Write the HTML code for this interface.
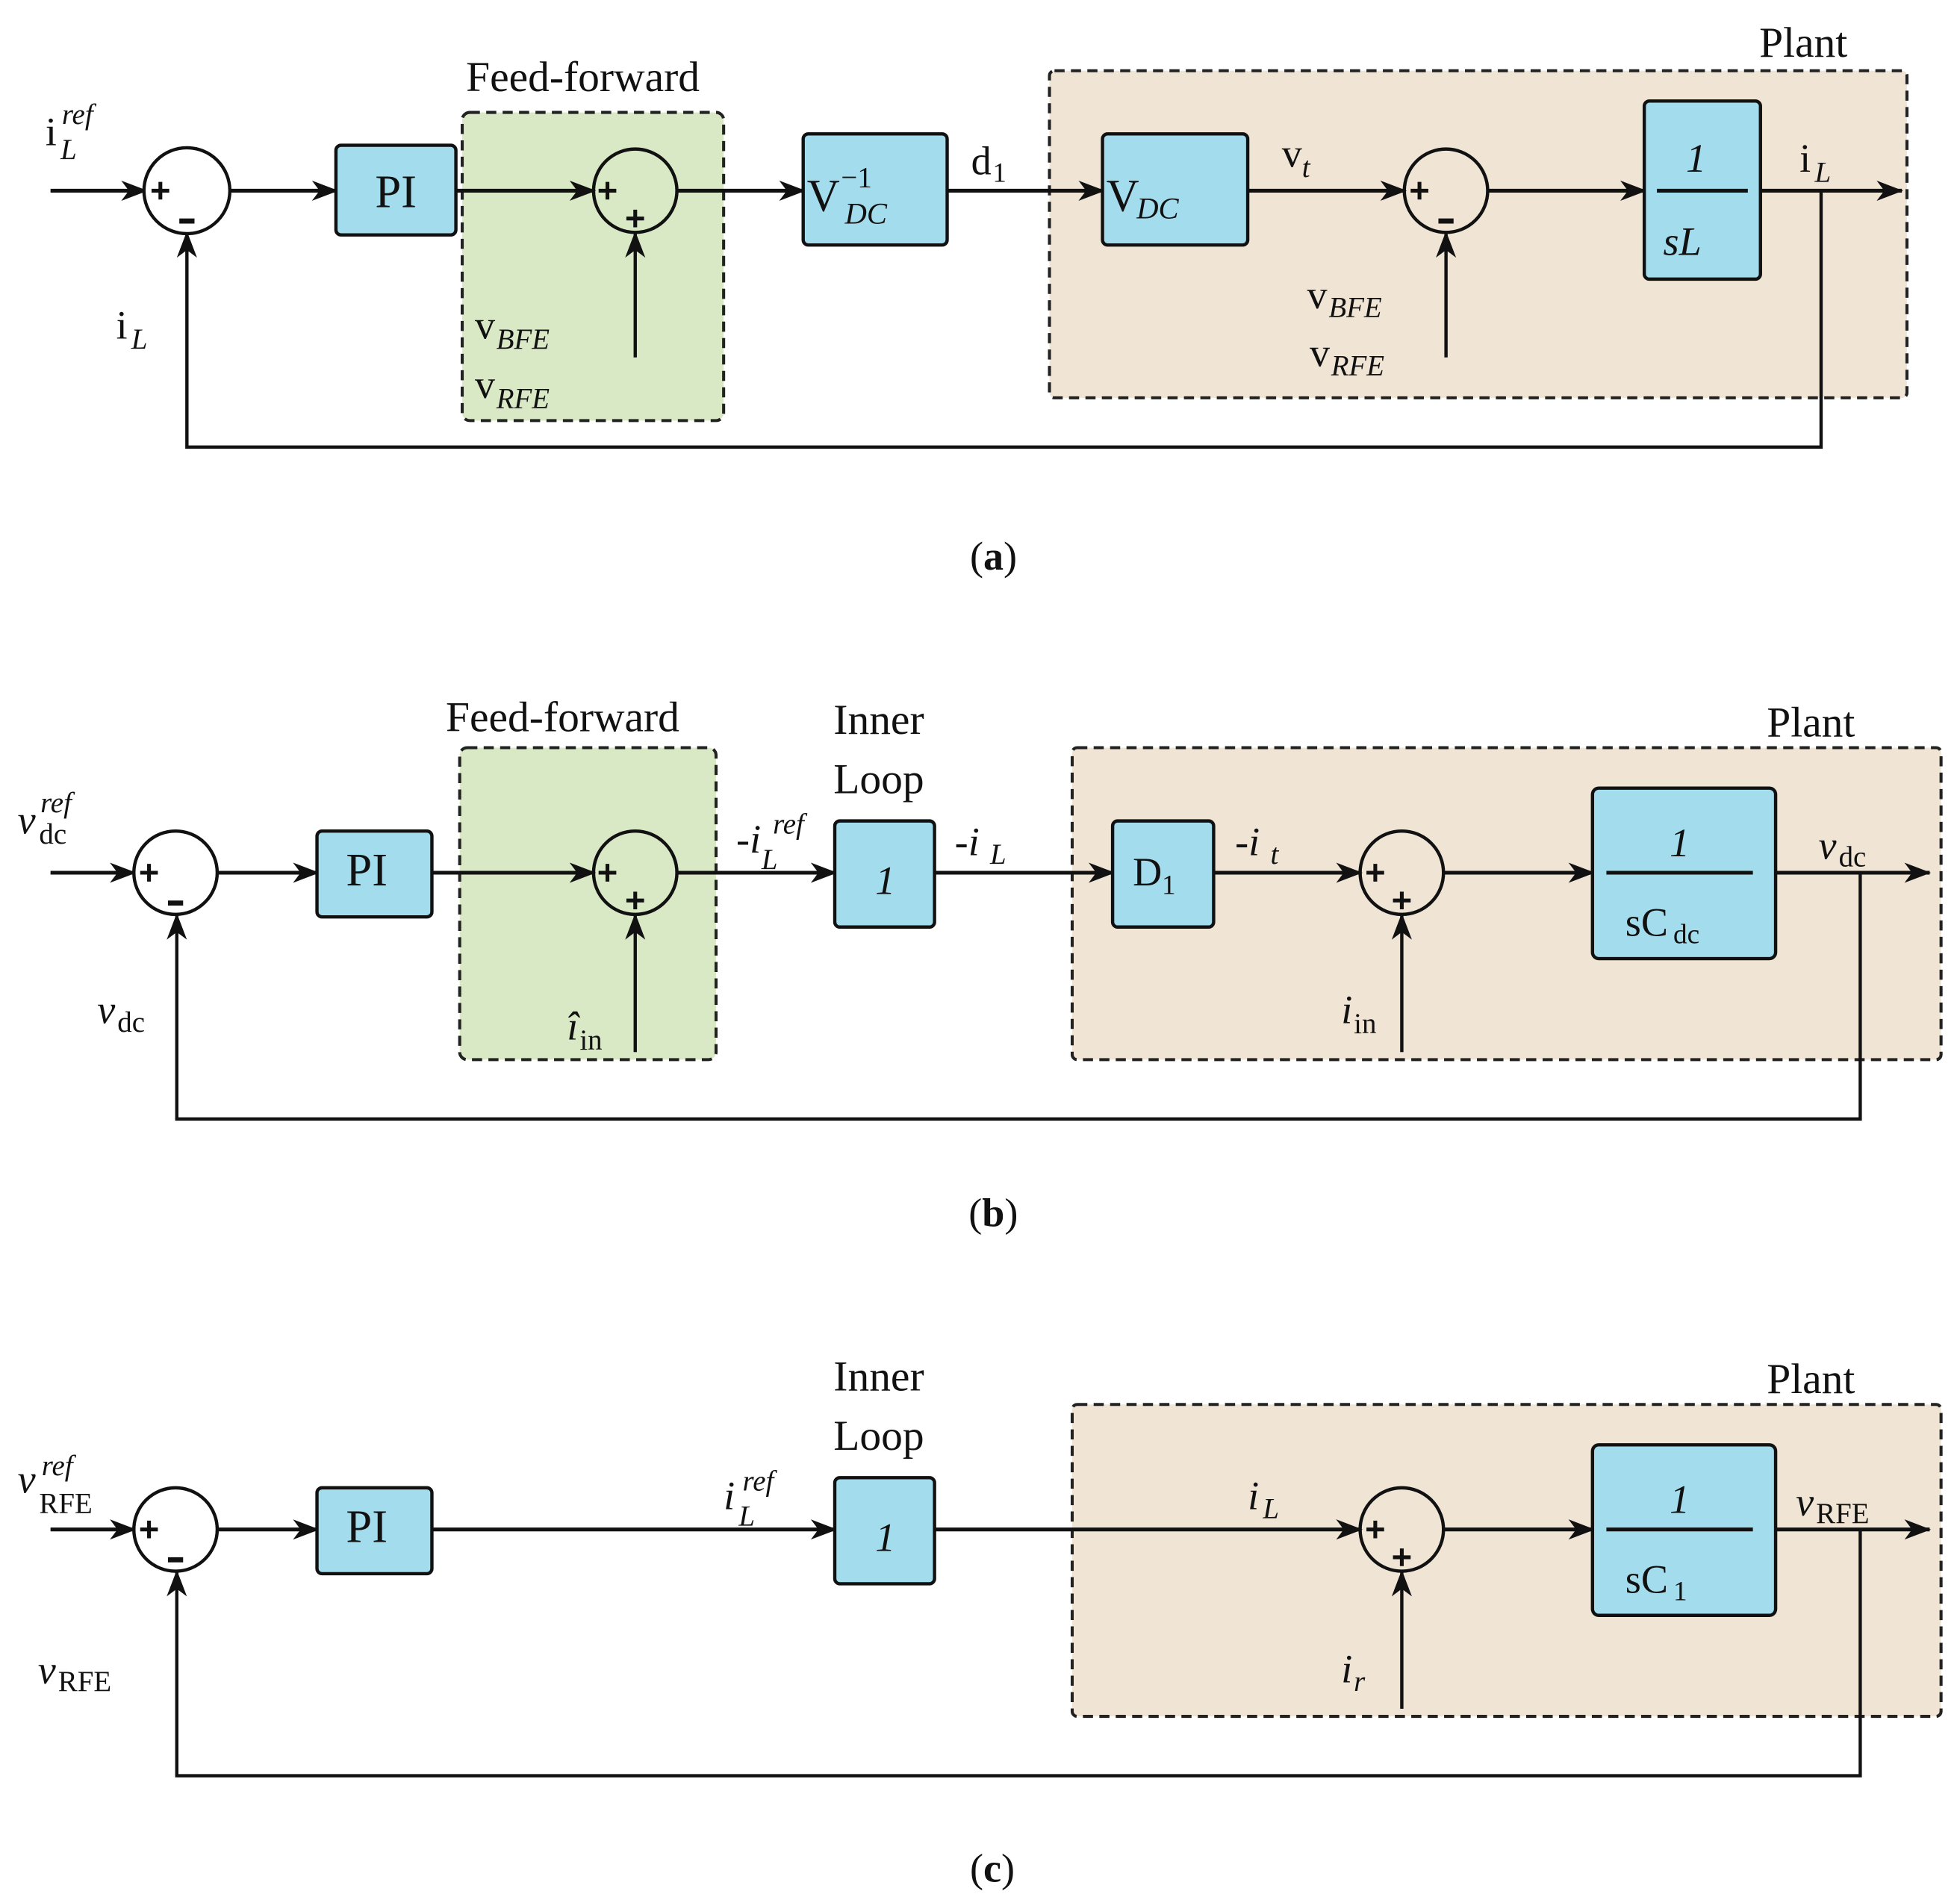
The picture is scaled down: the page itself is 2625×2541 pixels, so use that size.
<!DOCTYPE html>
<html><head><meta charset="utf-8"><style>
html,body{margin:0;padding:0;background:#fff}
svg{display:block}
svg text{font-family:"Liberation Serif","Times New Roman",serif;fill:#111}
.i{font-style:italic}
</style></head><body>
<svg width="2625" height="2541" viewBox="0 0 1552 1502" preserveAspectRatio="none" xmlns="http://www.w3.org/2000/svg" font-family="Liberation Serif, serif">
<defs>
<marker id="a" markerWidth="22" markerHeight="18" refX="20" refY="9" orient="auto" markerUnits="userSpaceOnUse">
<path d="M0,1 L21,9 L0,17 L6,9 z" fill="#111"/></marker>
</defs>
<g stroke="#111" fill="none">
<!-- ===== (a) ===== -->
<rect x="831" y="56" width="679" height="259" rx="4" fill="#f0e4d5" stroke="#222" stroke-width="2.4" stroke-dasharray="8,5"/>
<rect x="366" y="89" width="207" height="244" rx="6" fill="#d9e9c6" stroke="#222" stroke-width="2.4" stroke-dasharray="8,5"/>
<g stroke-width="3">
<line x1="40" y1="151" x2="116" y2="151" marker-end="url(#a)"/>
<line x1="182" y1="151" x2="267" y2="151" marker-end="url(#a)"/>
<line x1="361" y1="151" x2="471" y2="151" marker-end="url(#a)"/>
<line x1="537" y1="151" x2="637" y2="151" marker-end="url(#a)"/>
<line x1="750" y1="151" x2="874" y2="151" marker-end="url(#a)"/>
<line x1="988" y1="151" x2="1113" y2="151" marker-end="url(#a)"/>
<line x1="1179" y1="151" x2="1303" y2="151" marker-end="url(#a)"/>
<line x1="1394" y1="151" x2="1506" y2="151" marker-end="url(#a)"/>
</g>
<g stroke-width="2.6">
<line x1="503" y1="283" x2="503" y2="184" marker-end="url(#a)"/>
<line x1="1145" y1="283" x2="1145" y2="184" marker-end="url(#a)"/>
<polyline points="1442,151 1442,354 148,354 148,184" marker-end="url(#a)"/>
</g>
<g stroke-width="2.6" fill="none">
<circle cx="148" cy="151" r="34" fill="#fff"/>
<circle cx="503" cy="151" r="33"/>
<circle cx="1145" cy="151" r="33"/>
</g>
<g fill="#a3dcec" stroke-width="2.6">
<rect x="266" y="115" width="95" height="71" rx="4"/>
<rect x="636" y="106" width="114" height="88" rx="4"/>
<rect x="873" y="106" width="115" height="88" rx="4"/>
<rect x="1302" y="80" width="92" height="141" rx="4"/>
</g>
<line x1="1312" y1="151" x2="1384" y2="151" stroke-width="3"/>
<!-- ===== (b) ===== -->
<rect x="849" y="592" width="688" height="247" rx="4" fill="#f0e4d5" stroke="#222" stroke-width="2.4" stroke-dasharray="8,5"/>
<rect x="364" y="592" width="203" height="247" rx="6" fill="#d9e9c6" stroke="#222" stroke-width="2.4" stroke-dasharray="8,5"/>
<g stroke-width="3">
<line x1="40" y1="691" x2="107" y2="691" marker-end="url(#a)"/>
<line x1="173" y1="691" x2="252" y2="691" marker-end="url(#a)"/>
<line x1="342" y1="691" x2="471" y2="691" marker-end="url(#a)"/>
<line x1="537" y1="691" x2="662" y2="691" marker-end="url(#a)"/>
<line x1="740" y1="691" x2="882" y2="691" marker-end="url(#a)"/>
<line x1="961" y1="691" x2="1078" y2="691" marker-end="url(#a)"/>
<line x1="1144" y1="691" x2="1262" y2="691" marker-end="url(#a)"/>
<line x1="1406" y1="691" x2="1528" y2="691" marker-end="url(#a)"/>
</g>
<g stroke-width="2.6">
<line x1="503" y1="833" x2="503" y2="724" marker-end="url(#a)"/>
<line x1="1110" y1="833" x2="1110" y2="724" marker-end="url(#a)"/>
<polyline points="1473,691 1473,886 140,886 140,724" marker-end="url(#a)"/>
</g>
<g stroke-width="2.6" fill="none">
<circle cx="139" cy="691" r="33" fill="#fff"/>
<circle cx="503" cy="691" r="33"/>
<circle cx="1110" cy="691" r="33"/>
</g>
<g fill="#a3dcec" stroke-width="2.6">
<rect x="251" y="658" width="91" height="68" rx="4"/>
<rect x="661" y="650" width="79" height="84" rx="4"/>
<rect x="881" y="650" width="80" height="84" rx="4"/>
<rect x="1261" y="624" width="145" height="135" rx="5"/>
</g>
<line x1="1272" y1="691" x2="1388" y2="691" stroke-width="3"/>
<!-- ===== (c) ===== -->
<rect x="849" y="1112" width="688" height="247" rx="4" fill="#f0e4d5" stroke="#222" stroke-width="2.4" stroke-dasharray="8,5"/>
<g stroke-width="3">
<line x1="40" y1="1211" x2="107" y2="1211" marker-end="url(#a)"/>
<line x1="173" y1="1211" x2="252" y2="1211" marker-end="url(#a)"/>
<line x1="342" y1="1211" x2="662" y2="1211" marker-end="url(#a)"/>
<line x1="740" y1="1211" x2="1078" y2="1211" marker-end="url(#a)"/>
<line x1="1144" y1="1211" x2="1262" y2="1211" marker-end="url(#a)"/>
<line x1="1406" y1="1211" x2="1528" y2="1211" marker-end="url(#a)"/>
</g>
<g stroke-width="2.6">
<line x1="1110" y1="1353" x2="1110" y2="1244" marker-end="url(#a)"/>
<polyline points="1473,1211 1473,1406 140,1406 140,1244" marker-end="url(#a)"/>
</g>
<g stroke-width="2.6" fill="none">
<circle cx="139" cy="1211" r="33" fill="#fff"/>
<circle cx="1110" cy="1211" r="33"/>
</g>
<g fill="#a3dcec" stroke-width="2.6">
<rect x="251" y="1178" width="91" height="68" rx="4"/>
<rect x="661" y="1170" width="79" height="84" rx="4"/>
<rect x="1261" y="1144" width="145" height="135" rx="5"/>
</g>
<line x1="1272" y1="1211" x2="1388" y2="1211" stroke-width="3"/>
<!-- signs: plus -->
<g stroke-width="3">
<path d="M120,151 h14 M127,144 v14"/>
<path d="M474,151 h14 M481,144 v14"/>
<path d="M496,173 h14 M503,166 v14"/>
<path d="M1117,151 h14 M1124,144 v14"/>
<path d="M111,691 h14 M118,684 v14"/>
<path d="M474,691 h14 M481,684 v14"/>
<path d="M496,713 h14 M503,706 v14"/>
<path d="M1082,691 h14 M1089,684 v14"/>
<path d="M1103,713 h14 M1110,706 v14"/>
<path d="M111,1211 h14 M118,1204 v14"/>
<path d="M1082,1211 h14 M1089,1204 v14"/>
<path d="M1103,1233 h14 M1110,1226 v14"/>
</g>
<!-- minus -->
<g stroke-width="4">
<path d="M142,175 h12"/><path d="M1139,175 h12"/>
<path d="M133,715 h12"/><path d="M133,1235 h12"/>
</g>
</g>
<!-- labels (a) -->
<g font-size="32">
<text x="369" y="72" font-size="34">Feed-forward</text>
<text x="1393" y="45" font-size="34">Plant</text>
<text x="36" y="115">i</text><text x="48" y="126" class="i" font-size="23">L</text><text x="49" y="98" class="i" font-size="23">ref</text>
<text x="92" y="268">i</text><text x="104" y="276" class="i" font-size="23">L</text>
<text x="297" y="164" font-size="37">PI</text>
<text x="639" y="167" font-size="36">V</text><text x="666" y="148" font-size="23">−1</text><text x="669" y="177" class="i" font-size="24">DC</text>
<text x="769" y="138">d</text><text x="786" y="144" font-size="22">1</text>
<text x="876" y="167" font-size="36">V</text><text x="900" y="173" class="i" font-size="24">DC</text>
<text x="1015" y="132">v</text><text x="1031" y="140" class="i" font-size="23">t</text>
<text x="1335" y="136" class="i">1</text>
<text x="1317" y="202" class="i">sL</text>
<text x="1425" y="136">i</text><text x="1437" y="144" class="i" font-size="23">L</text>
<text x="376" y="268">v</text><text x="393" y="276" class="i" font-size="23">BFE</text>
<text x="376" y="315">v</text><text x="393" y="323" class="i" font-size="23">RFE</text>
<text x="1035" y="244">v</text><text x="1052" y="251" class="i" font-size="23">BFE</text>
<text x="1037" y="290">v</text><text x="1054" y="297" class="i" font-size="23">RFE</text>
<text x="768" y="451">(<tspan font-weight="bold">a</tspan>)</text>
</g>
<!-- labels (b) -->
<g font-size="32">
<text x="353" y="579" font-size="34">Feed-forward</text>
<text x="660" y="581" font-size="34">Inner</text><text x="660" y="628" font-size="34">Loop</text>
<text x="1399" y="583" font-size="34">Plant</text>
<text x="14" y="660" class="i">v</text><text x="31" y="668" font-size="23">dc</text><text x="32" y="643" class="i" font-size="23">ref</text>
<text x="77" y="810" class="i">v</text><text x="93" y="817" font-size="23">dc</text>
<text x="274" y="701" font-size="37">PI</text>
<text x="583" y="675">-<tspan class="i">i</tspan></text><text x="603" y="688" class="i" font-size="23">L</text><text x="612" y="660" class="i" font-size="23">ref</text>
<text x="693" y="708" class="i">1</text>
<text x="756" y="677">-<tspan class="i">i</tspan></text><text x="784" y="684" class="i" font-size="23">L</text>
<text x="897" y="701">D</text><text x="920" y="708" font-size="22">1</text>
<text x="978" y="677">-<tspan class="i">i</tspan></text><text x="1006" y="684" class="i" font-size="23">t</text>
<text x="1322" y="678" class="i">1</text>
<text x="1287" y="741">sC</text><text x="1325" y="747" font-size="22">dc</text>
<text x="1440" y="680" class="i">v</text><text x="1456" y="686" font-size="23">dc</text>
<text x="449" y="823" class="i">î</text><text x="459" y="831" font-size="23">in</text>
<text x="1062" y="810" class="i">i</text><text x="1072" y="818" font-size="23">in</text>
<text x="767" y="971">(<tspan font-weight="bold">b</tspan>)</text>
</g>
<!-- labels (c) -->
<g font-size="32">
<text x="660" y="1101" font-size="34">Inner</text><text x="660" y="1148" font-size="34">Loop</text>
<text x="1399" y="1103" font-size="34">Plant</text>
<text x="14" y="1182" class="i">v</text><text x="31" y="1198" font-size="23">RFE</text><text x="33" y="1168" class="i" font-size="23">ref</text>
<text x="30" y="1333" class="i">v</text><text x="46" y="1339" font-size="23">RFE</text>
<text x="274" y="1221" font-size="37">PI</text>
<text x="573" y="1195" class="i">i</text><text x="585" y="1208" class="i" font-size="23">L</text><text x="588" y="1180" class="i" font-size="23">ref</text>
<text x="693" y="1228" class="i">1</text>
<text x="988" y="1195" class="i">i</text><text x="1000" y="1202" class="i" font-size="23">L</text>
<text x="1322" y="1198" class="i">1</text>
<text x="1287" y="1261">sC</text><text x="1325" y="1267" font-size="22">1</text>
<text x="1422" y="1200" class="i">v</text><text x="1438" y="1206" font-size="23">RFE</text>
<text x="1062" y="1332" class="i">i</text><text x="1072" y="1339" class="i" font-size="23">r</text>
<text x="768" y="1490">(<tspan font-weight="bold">c</tspan>)</text>
</g>
</svg>
</body></html>
